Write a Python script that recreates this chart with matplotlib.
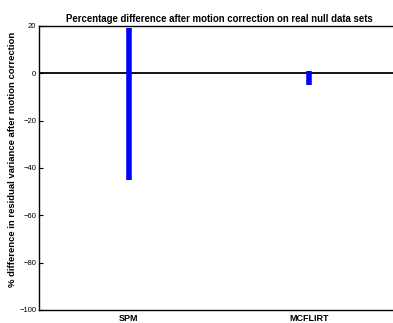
import matplotlib
matplotlib.use('Agg')
import matplotlib.pyplot as plt

# percentage difference ranges per method
methods = ['SPM', 'MCFLIRT']
pct_max = [19.0, 1.0]
pct_min = [-45.0, -5.0]

plt.rcParams['font.family'] = ['Liberation Sans', 'DejaVu Sans']

fig = plt.figure(figsize=(3.93, 3.23), dpi=100)
ax = fig.add_axes([39 / 393, 13 / 323, 360 / 393, 284 / 323])

xpos = list(range(1, len(methods) + 1))
ax.vlines(xpos, pct_min, pct_max, color='#0000ff', linewidth=4.0, capstyle='butt', zorder=3)
ax.axhline(0, color='black', linewidth=1.3, zorder=2)

ax.set_xlim(0.5, 2.5)
ax.set_ylim(-100, 20)
ax.set_yticks(range(-100, 21, 20))
ax.set_xticks(xpos)
ax.set_xticklabels(methods, fontsize=6.5, fontweight='bold')
ax.tick_params(axis='y', direction='in', length=3, labelsize=5.5, pad=2, color='black')
ax.tick_params(axis='x', length=0, pad=3)
for s in ax.spines.values():
    s.set_linewidth(1.0)

ax.set_title('Percentage difference after motion correction on real null data sets',
             fontsize=6.9, fontweight='bold', pad=3)
ax.set_ylabel('% difference in residual variance after motion correction',
              fontsize=6.8, fontweight='bold')
ax.yaxis.set_label_coords(-0.06, 0.53)

fig.savefig('out.png', dpi=100)
